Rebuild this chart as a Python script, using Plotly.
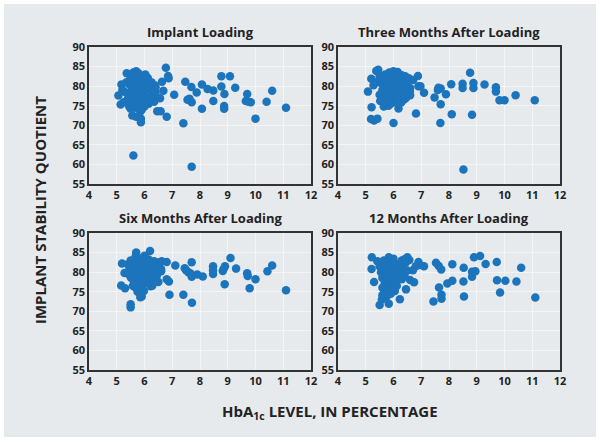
import plotly.graph_objects as go

titles = ["Implant Loading", "Three Months After Loading", "Six Months After Loading", "12 Months After Loading"]
x_ticks = [4, 5, 6, 7, 8, 9, 10, 11, 12]
y_ticks = [55, 60, 65, 70, 75, 80, 85, 90]

p1 = [(5.6,62.3),(7.7,59.4),(7.4,70.5),(10.0,71.7),(11.1,74.5),(10.6,78.8),(10.4,76.0),(9.7,78.0),(9.65,76.2),(9.75,76.0),(9.83,75.9),(9.27,79.6),(9.08,82.5),(8.77,82.5),(8.77,79.9),(8.88,78.0),(8.87,74.9),(8.87,74.2),(8.48,76.2),(8.48,78.9),(8.27,79.3),(8.07,80.4),(8.07,74.2),(7.88,78.4),(7.69,79.8),(7.47,81.1),(7.55,76.5),(7.62,76.8),(7.7,75.9),(7.07,77.8),(6.77,84.7),(6.87,82.0),(6.85,82.6),(6.63,81.1),(6.68,78.8),(6.8,72.2),(6.46,73.6),(6.58,73.6),(6.56,76.9),
      (5.06,77.6),(5.17,80.4),(5.14,75.3),(5.25,75.9),(5.36,83.3),(5.48,77.7),(5.5,74.2),(5.56,72.5),(5.7,72.2),(5.87,70.8),(5.87,71.7),(5.78,83.3),(5.75,82.5),(6.03,83.0),(6.12,82.1),(6.19,79.9),(6.28,77.2),(6.4,79.7),(6.37,80.2),(5.3,78.5),(5.35,81.0),(5.45,80.5),(5.5,82.0),(5.6,83.5),(5.65,81.5),(5.7,80.0),(5.72,78.5),(5.8,77.0),(5.82,75.5),(5.9,74.0),(5.95,76.5),(6.0,78.0),(6.05,80.5),(6.1,77.0),(6.15,75.5),(6.2,76.8),(6.25,81.0),(5.55,79.0),(5.6,76.0),(5.65,78.0),(5.68,74.5),(5.75,79.5),(5.78,76.5),(5.85,81.8),(5.9,79.0),(5.92,80.5),(5.98,82.2),(5.62,80.8),(5.4,76.8),(5.45,74.8),(5.85,73.5),(6.3,78.0),(6.35,76.0),(6.0,74.8),(5.95,77.5),(5.7,83.8),(5.55,81.3),(5.2,79.0),(6.08,79.2),(6.4,78.4)]

p2 = [(8.52,58.7),(11.09,76.4),(10.4,77.7),(10.0,76.4),(9.82,76.4),(9.69,79.7),(9.69,78.6),(9.28,80.4),(8.88,80.8),(8.88,79.5),(8.76,83.4),(8.83,72.7),(8.49,80.6),(8.49,79.5),(8.08,80.5),(8.1,72.8),(7.89,77.9),(7.7,79.4),(7.6,79.0),(7.62,79.6),(7.48,77.1),(7.7,75.4),(7.69,70.6),(7.1,78.3),(6.81,73.0),(6.88,82.6),(6.9,80.0),(6.97,80.0),(6.59,78.7),(6.6,77.7),(6.71,81.6),(6.38,76.6),(6.18,74.3),(6.0,70.6),(5.19,71.6),(5.3,71.2),(5.42,71.7),(5.21,74.6),(5.08,78.6),(5.2,81.9),(5.38,83.9),(5.28,80.2),
      (5.45,84.2),(5.5,82.5),(5.55,80.8),(5.6,79.0),(5.62,77.5),(5.65,75.8),(5.7,83.0),(5.72,81.5),(5.75,79.8),(5.78,78.0),(5.8,76.5),(5.82,75.0),(5.85,83.5),(5.88,82.0),(5.9,80.3),(5.92,78.8),(5.95,77.2),(5.98,75.8),(6.0,83.8),(6.02,82.3),(6.05,80.8),(6.08,79.2),(6.1,77.8),(6.12,76.3),(6.15,83.6),(6.2,81.5),(6.22,80.0),(6.25,78.5),(6.3,82.8),(6.35,81.0),(6.4,79.3),(6.42,82.5),(6.48,80.7),(6.55,82.0),(6.6,79.5),(5.5,77.8),(5.52,76.2),(5.58,81.8),(5.68,80.3),(5.75,76.8),(5.85,79.0),(5.95,81.2),(6.05,78.2),(6.15,80.1),(6.3,78.0),(5.4,81.0),(5.65,74.8),(5.9,75.5),(6.28,75.8),(6.45,77.0)]

p3 = [(11.1,75.4),(10.6,81.7),(10.43,80.2),(10.0,78.2),(9.79,75.9),(9.7,79.7),(9.72,79.0),(9.3,80.9),(9.1,83.6),(8.9,81.5),(8.85,80.8),(8.82,80.3),(8.89,76.9),(8.47,81.5),(8.47,80.5),(8.47,79.5),(8.1,78.9),(7.9,79.4),(7.7,78.8),(7.65,79.7),(7.7,82.5),(7.5,80.5),(7.58,80.0),(7.45,81.0),(7.71,72.2),(7.4,74.2),(7.11,81.7),(6.9,74.2),(6.88,77.6),(6.8,78.2),(6.6,80.2),(6.62,82.8),(6.8,82.6),(6.2,85.4),(6.22,76.4),(5.9,73.8),(5.85,73.6),(5.5,71.8),(5.5,71.0),(5.16,76.6),(5.3,75.9),(5.19,82.2),(5.28,79.8),
      (5.4,82.0),(5.45,80.5),(5.5,83.0),(5.55,81.2),(5.6,79.5),(5.62,77.8),(5.65,76.2),(5.68,84.0),(5.7,82.3),(5.72,80.6),(5.75,79.0),(5.78,77.3),(5.8,75.6),(5.85,83.5),(5.88,81.8),(5.9,80.2),(5.92,78.5),(5.95,76.8),(5.98,75.2),(6.0,84.2),(6.02,82.6),(6.05,81.0),(6.08,79.3),(6.1,77.6),(6.15,83.2),(6.2,81.5),(6.25,79.8),(6.3,78.2),(6.35,82.8),(6.4,81.0),(6.45,79.2),(6.5,77.5),(6.55,82.5),(6.6,80.8),(5.52,78.5),(5.58,76.5),(5.65,82.0),(5.75,75.0),(5.82,79.8),(5.95,82.0),(6.12,80.2),(6.28,76.5),(6.4,77.8),(5.48,79.0),(5.7,85.0),(5.88,77.8)]

p4 = [(11.11,73.5),(10.6,81.1),(10.43,77.6),(10.03,77.8),(9.73,77.9),(9.72,82.6),(9.84,74.8),(9.32,82.1),(9.12,84.1),(8.9,83.8),(8.95,80.2),(8.83,80.1),(8.83,78.8),(8.53,81.1),(8.52,77.6),(8.54,73.8),(8.12,82.0),(8.12,77.8),(7.94,77.1),(7.72,80.7),(7.63,81.6),(7.53,82.4),(7.64,76.1),(7.73,74.2),(7.73,73.2),(7.44,72.5),(7.1,81.5),(6.9,82.6),(6.95,81.8),(6.7,80.5),(6.8,81.5),(6.74,77.4),(6.6,78.0),(6.45,75.6),(6.23,73.1),(6.5,83.8),(6.57,83.1),(6.4,83.3),(5.22,83.8),(5.21,80.8),(5.3,77.5),(5.42,82.8),(5.5,71.6),(5.58,73.0),(5.6,74.1),(5.67,75.0),(5.83,71.9),(5.83,83.8),(6.0,83.4),
      (5.5,81.5),(5.55,80.0),(5.6,78.5),(5.62,82.0),(5.65,79.2),(5.68,77.0),(5.7,80.8),(5.72,78.0),(5.75,76.2),(5.78,82.5),(5.8,79.5),(5.82,77.5),(5.85,75.5),(5.88,81.0),(5.9,79.0),(5.92,77.0),(5.95,80.2),(5.98,78.2),(6.0,76.5),(6.02,81.8),(6.05,79.6),(6.08,77.6),(6.1,80.8),(6.15,78.8),(6.2,82.0),(6.25,80.0),(6.3,78.2),(6.35,81.2),(6.4,79.0),(6.45,82.5),(6.5,80.4),(5.6,76.0),(5.75,73.8),(5.9,74.5),(6.05,75.2),(6.12,76.5),(5.65,83.0),(6.3,83.0)]

panels = [p1, p2, p3, p4]

W, H = 600, 442
FONT = "Open Sans"
BLUE = "#1c75bc"

# panel pixel boxes (left, right, top, bottom)
boxes = [(89, 311, 47, 184), (338, 560, 47, 184), (89, 311, 233, 370), (338, 560, 233, 370)]

fig = go.Figure()
layout = dict(
    width=W, height=H, margin=dict(l=0, r=0, t=0, b=0, autoexpand=False),
    paper_bgcolor="white", plot_bgcolor="#d6d9dc", showlegend=False,
    font=dict(family=FONT, color="#222"),
)
annotations = []
for i, (pts, box, title) in enumerate(zip(panels, boxes, titles)):
    n = "" if i == 0 else str(i + 1)
    xs = [p[0] for p in pts]
    ys = [p[1] for p in pts]
    fig.add_trace(go.Scatter(x=xs, y=ys, mode="markers", xaxis="x" + n, yaxis="y" + n,
                             marker=dict(color=BLUE, size=8.5, line=dict(width=0))))
    l, r, t, b = box
    layout["xaxis" + n] = dict(domain=[l / W, r / W], range=[4, 12], tickvals=x_ticks,
                               anchor="y" + n, showgrid=True, gridcolor="#f2f4f5", gridwidth=1,
                               showline=True, mirror=True, linecolor="#333", linewidth=1.5,
                               zeroline=False, ticks="", automargin=False,
                               tickfont=dict(size=11, family=FONT, weight="bold"))
    layout["yaxis" + n] = dict(domain=[1 - b / H, 1 - t / H], range=[55, 90], tickvals=y_ticks,
                               anchor="x" + n, showgrid=True, gridcolor="#f2f4f5", gridwidth=1,
                               showline=True, mirror=True, linecolor="#333", linewidth=1.5,
                               zeroline=False, ticks="", automargin=False,
                               tickfont=dict(size=11, family=FONT, weight="bold"))
    annotations.append(dict(text="<b>" + title + "</b>", x=(l + r) / 2 / W, y=1 - (t - 15) / H,
                            xref="paper", yref="paper", showarrow=False,
                            xanchor="center", yanchor="middle",
                            font=dict(size=13, family=FONT, color="#222")))

annotations.append(dict(text="<b>IMPLANT STABILITY QUOTIENT</b>", x=40 / W, y=1 - 210 / H,
                        xref="paper", yref="paper", showarrow=False, textangle=-90,
                        xanchor="center", yanchor="middle",
                        font=dict(size=15, family=FONT, color="#222")))
annotations.append(dict(text="<b>HbA<sub>1c</sub> LEVEL, IN PERCENTAGE</b>", x=330 / W, y=1 - 412 / H,
                        xref="paper", yref="paper", showarrow=False,
                        xanchor="center", yanchor="middle",
                        font=dict(size=15, family=FONT, color="#222")))
layout["annotations"] = annotations
layout["shapes"] = [dict(type="rect", xref="paper", yref="paper", x0=4 / W, x1=596 / W,
                         y0=1 - 437 / H, y1=1 - 4 / H, fillcolor="#e7eaed", line=dict(width=0),
                         layer="below")]
fig.update_layout(**layout)
fig.write_html("out.html", config={"displayModeBar": False},
               post_script="document.body.style.margin='0px';document.body.style.overflow='hidden';")
